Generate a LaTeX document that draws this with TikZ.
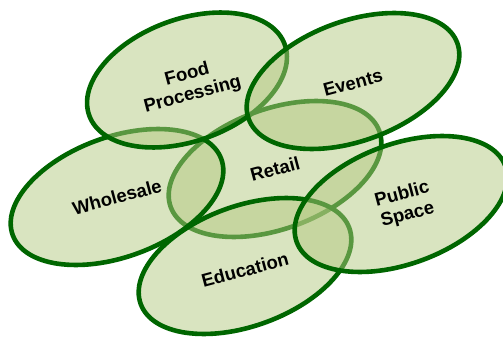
\documentclass[tikz,border=0pt]{standalone}
\usepackage{fontspec}
\setmainfont{Liberation Sans}
\usetikzlibrary{shapes.geometric}

\definecolor{leafgreen}{RGB}{179,201,129}
\definecolor{rimgreen}{RGB}{0,102,0}

\tikzset{
    area/.style={ellipse, draw=rimgreen, line width=4.6pt, fill=leafgreen, fill opacity=0.5,
        minimum width=222pt, minimum height=120pt, inner sep=0pt, rotate=20},
    tag/.style={font=\bfseries\fontsize{18.5}{21}\selectfont, align=center, rotate=15}
}

\begin{document}
\begin{tikzpicture}[x=1pt, y=-1pt]
    \useasboundingbox (0,0) rectangle (503,337);

    % Sectors
    \node[area] (retail) at (275,169) {};
    \node[area] (wholesale) at (117,197) {};
    \node[area, minimum width=208pt, minimum height=122pt] (food) at (187,80) {};
    \node[area] (events) at (353,81) {};
    \node[area] (education) at (245,266) {};
    \node[area] (public) at (401,204) {};

    % Labels
    \node[tag] (retailtext) at (retail) {Retail};
    \node[tag] (wholesaletext) at (wholesale) {Wholesale};
    \node[tag] (foodtext) at ([xshift=3pt,yshift=-5pt]food.center) {Food\\Processing};
    \node[tag] (eventstext) at ([yshift=-2pt]events.center) {Events};
    \node[tag] (educationtext) at ([yshift=-4pt]education.center) {Education};
    \node[tag] (publictext) at ([xshift=4pt,yshift=-1pt]public.center) {Public\\Space};

\end{tikzpicture}
\end{document}
